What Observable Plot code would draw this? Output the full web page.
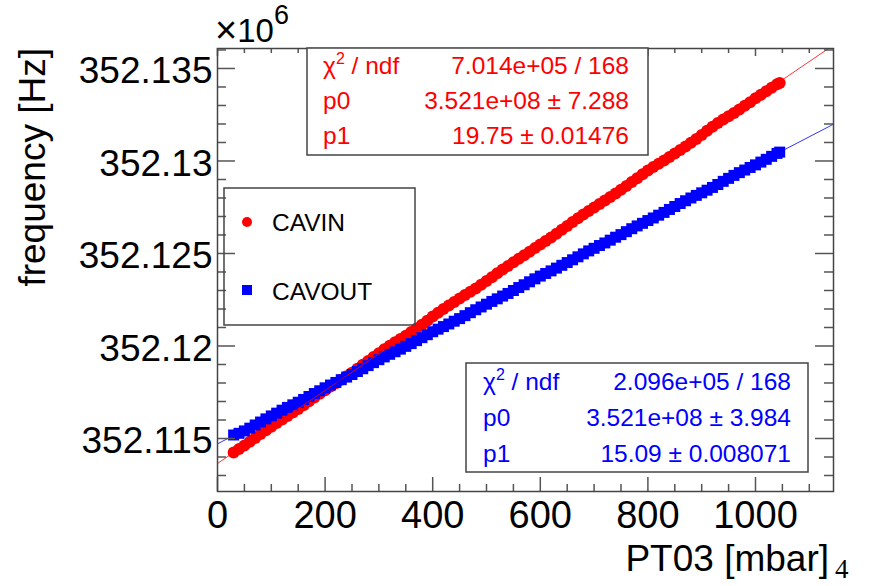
<!DOCTYPE html>
<html><head><meta charset="utf-8">
<script src="https://cdn.jsdelivr.net/npm/d3@7"></script>
<script src="https://cdn.jsdelivr.net/npm/@observablehq/plot@0.6"></script>
<style>body{margin:0;background:#fff} #chart{width:870px;height:586px}</style>
</head><body><div id="chart"></div>
<script>
// ---- data (PT03 pressure in mbar, frequency in MHz i.e. ×10^6 Hz) ----
const pressure = [30,40,50,60,70,80,90,100,110,120,130,140,150,160,170,180,190,200,210,220,230,240,250,260,270,280,290,300,310,320,330,340,350,360,370,380,390,400,410,420,430,440,450,460,470,480,490,500,510,520,530,540,550,560,570,580,590,600,610,620,630,640,650,660,670,680,690,700,710,720,730,740,750,760,770,780,790,800,810,820,830,840,850,860,870,880,890,900,910,920,930,940,950,960,970,980,990,1000,1010,1020,1030,1040,1045];
const cavinFreq = [352.11424,352.11443,352.11462,352.11482,352.11503,352.11524,352.11545,352.11564,352.11584,352.11603,352.11621,352.11640,352.11659,352.11680,352.11701,352.11721,352.11742,352.11761,352.11781,352.11799,352.11818,352.11836,352.11856,352.11877,352.11898,352.11919,352.11940,352.11961,352.11982,352.12001,352.12020,352.12038,352.12056,352.12075,352.12094,352.12115,352.12137,352.12159,352.12180,352.12200,352.12219,352.12238,352.12257,352.12275,352.12293,352.12311,352.12331,352.12351,352.12372,352.12393,352.12413,352.12433,352.12453,352.12472,352.12491,352.12510,352.12529,352.12548,352.12567,352.12587,352.12607,352.12628,352.12649,352.12670,352.12691,352.12711,352.12730,352.12749,352.12768,352.12786,352.12805,352.12824,352.12844,352.12865,352.12886,352.12907,352.12928,352.12948,352.12967,352.12985,352.13003,352.13021,352.13040,352.13059,352.13078,352.13098,352.13119,352.13140,352.13164,352.13185,352.13205,352.13224,352.13242,352.13260,352.13278,352.13298,352.13318,352.13339,352.13358,352.13377,352.13396,352.13415,352.13422];
const cavoutFreq = [352.11519,352.11528,352.11541,352.11556,352.11573,352.11589,352.11606,352.11622,352.11637,352.11653,352.11668,352.11682,352.11696,352.11711,352.11727,352.11743,352.11758,352.11774,352.11789,352.11803,352.11818,352.11832,352.11846,352.11862,352.11877,352.11894,352.11910,352.11926,352.11941,352.11955,352.11969,352.11983,352.11998,352.12013,352.12029,352.12045,352.12061,352.12077,352.12091,352.12105,352.12119,352.12134,352.12148,352.12164,352.12180,352.12196,352.12211,352.12226,352.12241,352.12255,352.12270,352.12284,352.12300,352.12316,352.12331,352.12347,352.12363,352.12378,352.12392,352.12406,352.12421,352.12436,352.12451,352.12466,352.12482,352.12498,352.12514,352.12528,352.12543,352.12557,352.12572,352.12588,352.12602,352.12618,352.12634,352.12649,352.12663,352.12678,352.12692,352.12707,352.12722,352.12738,352.12754,352.12770,352.12785,352.12800,352.12814,352.12828,352.12842,352.12857,352.12873,352.12890,352.12906,352.12922,352.12937,352.12951,352.12965,352.12979,352.12994,352.13009,352.13025,352.13041,352.13048];
const seriesNames = ["CAVIN", "CAVOUT"];
const seriesColors = ["#ff0000", "#0000ff"];
const fitIntercept = [352.11365, 352.11471];   // MHz
const fitSlope = [19.75e-6, 15.09e-6];         // MHz per mbar (19.75 Hz/mbar, 15.09 Hz/mbar)
const statLabels = ["χ2 / ndf", "p0", "p1"];
const cavinStats = ["7.014e+05 / 168", "3.521e+08 \u00b1 7.288", "19.75 \u00b1 0.01476"];
const cavoutStats = ["2.096e+05 / 168", "3.521e+08 \u00b1 3.984", "15.09 \u00b1 0.008071"];
const xTicks = [0, 200, 400, 600, 800, 1000];
const xTickLabels = ["0", "200", "400", "600", "800", "1000"];
const yTicks = [352.115, 352.12, 352.125, 352.13, 352.135];
const yTickLabels = ["352.115", "352.12", "352.125", "352.13", "352.135"];
const xTitle = "PT03 [mbar]";
const xTitleSuffix = "4";
const yTitle = "frequency [Hz]";
const yExponent = ["\u00d7", "10", "6"];

// ---- layout ----
const W = 870, H = 586;
const mL = 217, mR = 37, mT = 48, mB = 95;
const xDomain = [0, 1145], yDomain = [352.112135, 352.13608];
const plotW = W - mL - mR, plotH = H - mT - mB;
const dxPx = (xDomain[1] - xDomain[0]) / plotW;
const dyPx = (yDomain[1] - yDomain[0]) / plotH;
const font = "'Liberation Sans', Arial, Helvetica, sans-serif";

const xMinor = d3.range(0, 1145, 50).filter(v => !xTicks.includes(v));
const yMinor = d3.range(352113, 352137, 1).map(v => v / 1000).filter(v => !yTicks.some(t => Math.abs(t - v) < 1e-7));

const cavin = pressure.map((p, i) => ({x: p, y: cavinFreq[i]}));
const cavout = pressure.map((p, i) => ({x: p, y: cavoutFreq[i]}));
const fitLines = fitIntercept.map((p0, i) => {
  const xe = Math.min(xDomain[1], (yDomain[1] - p0) / fitSlope[i]);
  return [{x: xDomain[0], y: p0 + fitSlope[i] * xDomain[0]}, {x: xe, y: p0 + fitSlope[i] * xe}];
});

const tickStroke = "#555";
const plot = Plot.plot({
  width: W, height: H,
  marginLeft: mL, marginRight: mR, marginTop: mT, marginBottom: mB,
  x: {domain: xDomain, axis: null},
  y: {domain: yDomain, axis: null},
  style: {fontFamily: font, background: "white", overflow: "visible"},
  marks: [
    Plot.dot(cavin, {x: "x", y: "y", r: 6, fill: seriesColors[0]}),
    Plot.dot(cavout, {x: "x", y: "y", r: 6.2, symbol: "square", fill: seriesColors[1]}),
    Plot.line(fitLines[0], {x: "x", y: "y", stroke: seriesColors[0], strokeWidth: 1, strokeOpacity: 0.8}),
    Plot.line(fitLines[1], {x: "x", y: "y", stroke: seriesColors[1], strokeWidth: 1, strokeOpacity: 0.8}),
    // bottom ticks
    Plot.ruleX(xTicks, {x: d => d, y1: yDomain[0], y2: yDomain[0] + 14 * dyPx, stroke: tickStroke, strokeWidth: 1.5}),
    Plot.ruleX(xMinor, {x: d => d, y1: yDomain[0], y2: yDomain[0] + 7 * dyPx, stroke: tickStroke, strokeWidth: 1.5}),
    // top ticks
    Plot.ruleX(xTicks, {x: d => d, y1: yDomain[1], y2: yDomain[1] - 8 * dyPx, stroke: tickStroke, strokeWidth: 1.5}),
    Plot.ruleX(xMinor, {x: d => d, y1: yDomain[1], y2: yDomain[1] - 5 * dyPx, stroke: tickStroke, strokeWidth: 1.5}),
    // left ticks
    Plot.ruleY(yTicks, {y: d => d, x1: xDomain[0], x2: xDomain[0] + 18 * dxPx, stroke: tickStroke, strokeWidth: 1.5}),
    Plot.ruleY(yMinor, {y: d => d, x1: xDomain[0], x2: xDomain[0] + 9 * dxPx, stroke: tickStroke, strokeWidth: 1.5}),
    // right ticks
    Plot.ruleY(yTicks, {y: d => d, x1: xDomain[1], x2: xDomain[1] - 18 * dxPx, stroke: tickStroke, strokeWidth: 1.5}),
    Plot.ruleY(yMinor, {y: d => d, x1: xDomain[1], x2: xDomain[1] - 9 * dxPx, stroke: tickStroke, strokeWidth: 1.5}),
    Plot.frame({stroke: "#444", strokeWidth: 1.5}),
    // tick labels
    Plot.text(xTicks, {x: d => d, y: yDomain[0], text: (d, i) => xTickLabels[i], lineAnchor: "bottom", dy: 36, fontSize: 38, fill: "black", textAnchor: "middle"}),
    Plot.text(yTicks, {y: d => d, x: xDomain[0], text: (d, i) => yTickLabels[i], lineAnchor: "bottom", dy: 15, dx: -5, fontSize: 37, fill: "black", textAnchor: "end"})
  ]
});
document.getElementById("chart").appendChild(plot);

const svg = d3.select(plot);

// y exponent
const ex = svg.append("text").attr("x", 215).attr("y", 42).attr("text-anchor", "start").attr("font-family", font).attr("font-size", 33).attr("fill", "black");
ex.append("tspan").attr("font-size", 38).attr("dy", 1).text(yExponent[0]);
ex.append("tspan").attr("dy", -1).text(yExponent[1]);
ex.append("tspan").attr("dy", -18).attr("font-size", 27).text(yExponent[2]);

// axis titles
svg.append("text").attr("x", 829).attr("y", 571).attr("text-anchor", "end").attr("font-family", font).attr("font-size", 37).attr("fill", "black").text(xTitle);
svg.append("text").attr("x", 835).attr("y", 578).attr("text-anchor", "start").attr("font-family", "'Liberation Serif', 'Times New Roman', serif").attr("font-size", 27).attr("fill", "black").text(xTitleSuffix);
svg.append("text").attr("transform", "translate(45,48) rotate(-90)").attr("text-anchor", "end").attr("font-family", font).attr("font-size", 37).attr("fill", "black").text(yTitle);

// stat boxes
function statBox(b, values, color) {
  const g = svg.append("g").attr("font-family", font).attr("font-size", 24.5).attr("fill", color);
  g.append("rect").attr("x", b.x).attr("y", b.y).attr("width", b.w).attr("height", b.h)
    .attr("fill", "white").attr("stroke", "#444").attr("stroke-width", 1.5);
  statLabels.forEach((lab, i) => {
    const t = g.append("text").attr("x", b.tx).attr("y", b.base[i]).attr("text-anchor", "start");
    if (lab.startsWith("χ")) {
      t.append("tspan").text("χ");
      t.append("tspan").attr("dy", -10).attr("font-size", 16).text("2");
      t.append("tspan").attr("dy", 10).text(" / ndf");
    } else t.text(lab);
    g.append("text").attr("x", b.vx).attr("y", b.base[i]).attr("text-anchor", "end").text(values[i]);
  });
}
statBox({x: 307, y: 48, w: 341, h: 107, tx: 323, vx: 629, base: [74, 109, 144]}, cavinStats, seriesColors[0]);
statBox({x: 466, y: 363, w: 342, h: 109, tx: 483, vx: 791, base: [390, 426, 462]}, cavoutStats, seriesColors[1]);

// legend
const lg = svg.append("g").attr("font-family", font).attr("font-size", 24.5);
lg.append("rect").attr("x", 224).attr("y", 188).attr("width", 191).attr("height", 137).attr("fill", "none").attr("stroke", "#444").attr("stroke-width", 1.5);
lg.append("circle").attr("cx", 247).attr("cy", 222).attr("r", 5).attr("fill", seriesColors[0]);
lg.append("text").attr("x", 272).attr("y", 231).attr("text-anchor", "start").attr("fill", "black").text(seriesNames[0]);
lg.append("rect").attr("x", 242).attr("y", 285).attr("width", 10).attr("height", 10).attr("fill", seriesColors[1]);
lg.append("text").attr("x", 272).attr("y", 300).attr("text-anchor", "start").attr("fill", "black").text(seriesNames[1]);
</script>
</body></html>
